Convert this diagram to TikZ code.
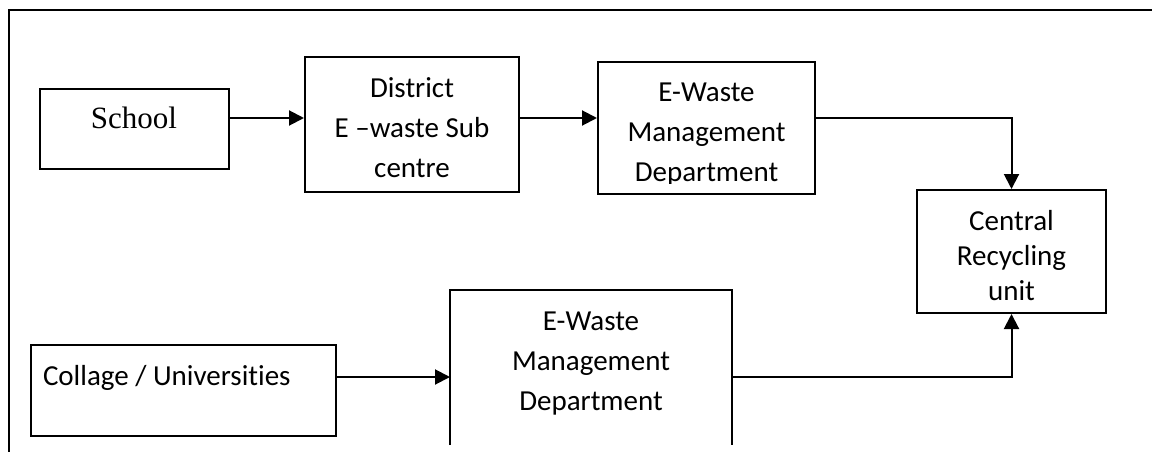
\documentclass[tikz,border=0pt]{standalone}
\usepackage{fontspec}
\setmainfont[Ligatures=NoCommon]{Carlito}
\newfontfamily\timesfont{Liberation Serif}
\usetikzlibrary{arrows.meta}
\begin{document}
\begin{tikzpicture}[x=1pt,y=-1pt,
  line width=2pt,
  box/.style={draw,rectangle,inner sep=0pt},
  txt/.style={align=center,inner sep=0pt,font=\fontsize{29}{40}\selectfont},
  conn/.style={-{Triangle[length=15pt,width=15pt]}}]
\useasboundingbox (0,0) rectangle (1153,452);
% outer frame (top and left only)
\coordinate (fl) at (9,452);
\coordinate (ftl) at (9,10);
\coordinate (ftr) at (1152,10);
\draw (fl) -- (ftl) -- (ftr);
% boxes
\node[box,minimum width=189pt,minimum height=80pt] (school) at (134.5,129) {};
\node[box,minimum width=214pt,minimum height=135pt] (district) at (412,124.5) {};
\node[box,minimum width=217pt,minimum height=132pt] (ewm1) at (706.5,128) {};
\node[box,minimum width=189pt,minimum height=123pt] (central) at (1011.5,251.5) {};
\node[box,minimum width=305pt,minimum height=91pt] (college) at (183.5,390.5) {};
\node[rectangle,inner sep=0pt,minimum width=280pt,minimum height=153pt] (ewm2) at (591,367.5) {};
\draw (ewm2.south west) -- (ewm2.north west) -- (ewm2.north east) -- (ewm2.south east);
% texts
\node[inner sep=0pt,font=\timesfont\fontsize{31}{40}\selectfont] (tschool) at (134,118) {School};
\node[txt] (tdistrict) at (412,128) {District\\E –waste Sub\\centre};
\begin{scope}
\clip (599,63) rectangle (814,183);
\node[txt] (tewm1) at (706.5,135) {E-Waste\\Management\\Department};
\end{scope}
\node[txt,font=\fontsize{29}{35}\selectfont] (tcentral) at (1011.5,256) {Central\\Recycling\\unit};
\node[txt,anchor=west] (tcollege) at (42,378) {Collage / Universities};
\node[txt] (tewm2) at (591,364) {E-Waste\\Management\\Department};
% connectors
\draw[conn] (school.east |- tschool) -- (district.west |- tschool);
\draw[conn] (district.east |- tschool) -- (ewm1.west |- tschool);
\draw[conn] (ewm1.east |- tschool) -| (central.north);
\draw[conn] (college.east |- 0,377) -- (ewm2.west |- 0,377);
\draw[conn] (ewm2.east |- 0,377) -| (central.south);
\end{tikzpicture}
\end{document}
